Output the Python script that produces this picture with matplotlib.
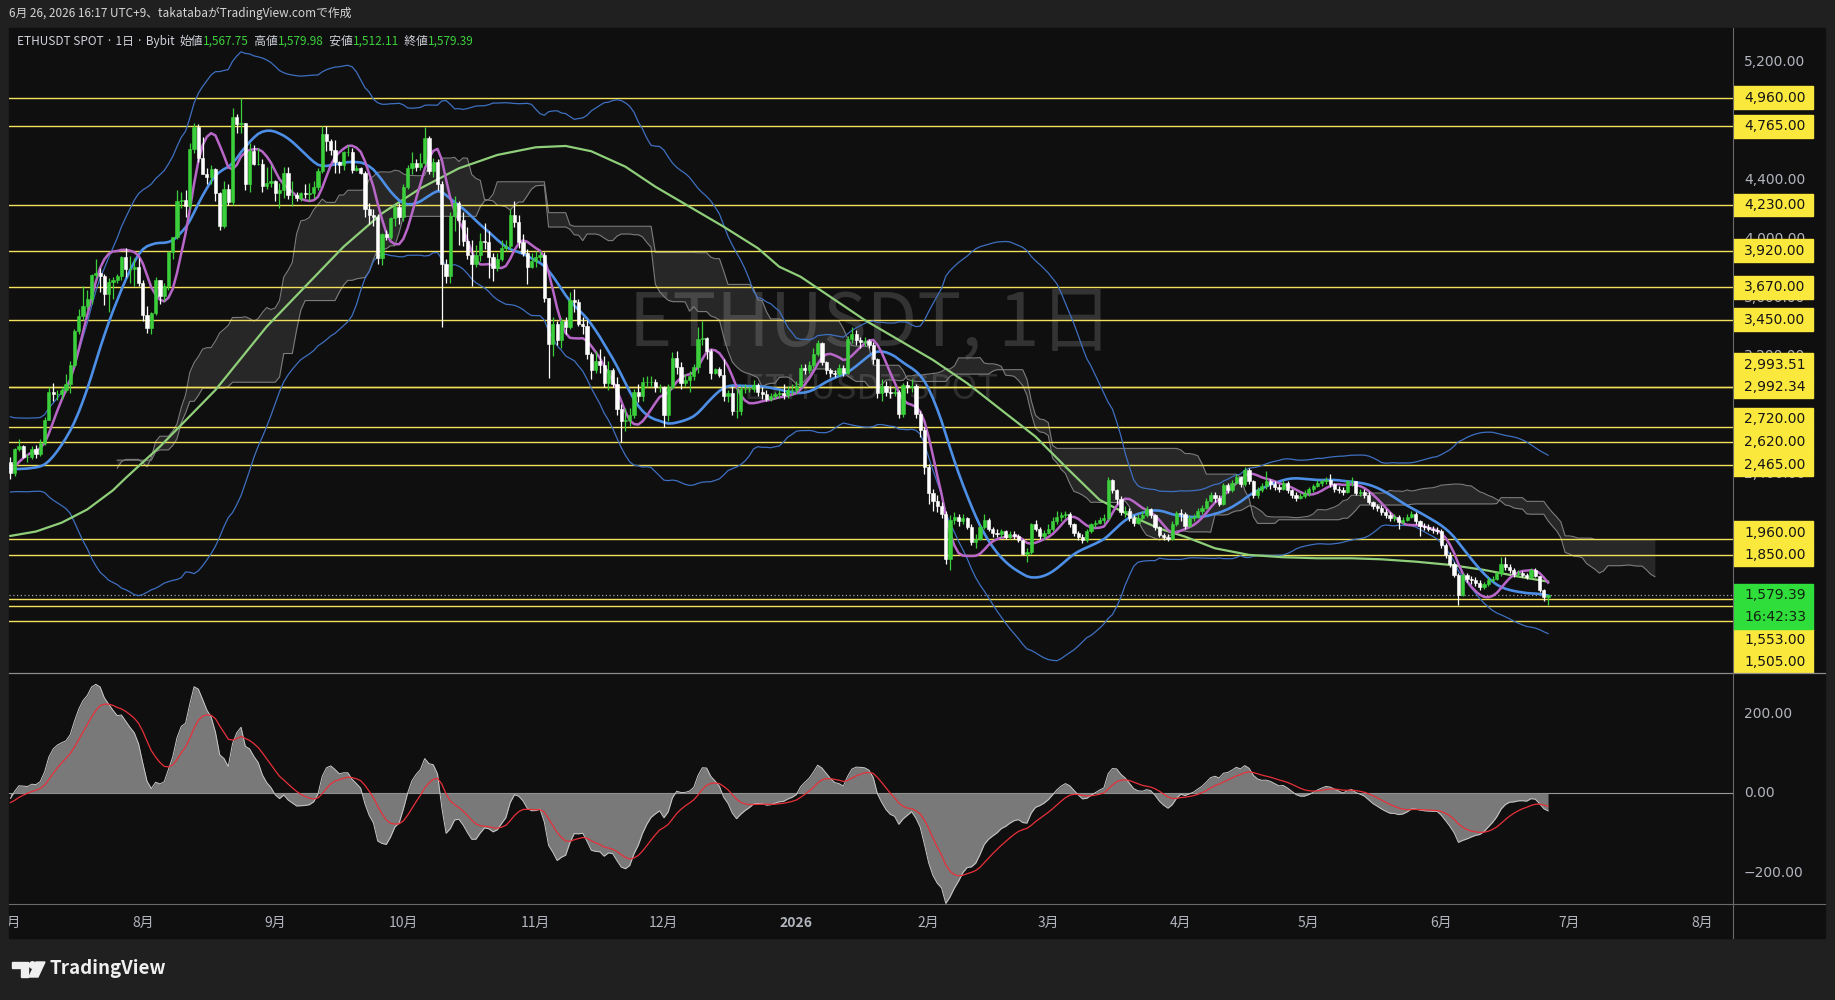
import numpy as np
import pandas as pd
import matplotlib
matplotlib.use('Agg')
import matplotlib.pyplot as plt
from matplotlib.patches import Rectangle, Polygon, Circle

plt.rcParams['font.family'] = ['Noto Sans CJK JP', 'DejaVu Sans']

# ---------------- data ----------------
chart_start = '2025-07-01'

# history before the visible range (2025-04-10 .. 2025-06-30), needed for indicator warm-up
pre_close = [1520, 1565, 1645, 1595, 1625, 1590, 1575, 1585, 1590, 1610, 1585, 1580, 1755, 1795, 1770, 1785, 1820, 1795, 1800, 1800, 1795,
             1840, 1845, 1830, 1810, 1815, 1815, 1810, 2205, 2345, 2585, 2515, 2490, 2680, 2610, 2545, 2550, 2475, 2495, 2525, 2525,
             2550, 2665, 2530, 2530, 2550, 2565, 2660, 2680, 2630, 2530, 2530,
             2510, 2610, 2595, 2610, 2415, 2480, 2525, 2510, 2680, 2815, 2770, 2640, 2575, 2525, 2545, 2545, 2510, 2525, 2520, 2410,
             2400, 2225, 2405, 2445, 2420, 2415, 2425, 2435, 2500, 2485]
pre_high = [1690, 1580, 1660, 1690, 1690, 1660, 1600, 1600, 1610, 1620, 1640, 1600, 1790, 1830, 1800, 1800, 1830, 1830, 1845, 1840, 1840,
            1870, 1870, 1850, 1840, 1830, 1830, 1830, 2210, 2390, 2600, 2600, 2560, 2740, 2720, 2610, 2620, 2560, 2540, 2550, 2570,
            2640, 2740, 2740, 2560, 2570, 2590, 2720, 2700, 2790, 2670, 2560,
            2540, 2640, 2640, 2680, 2630, 2510, 2550, 2540, 2690, 2820, 2880, 2780, 2640, 2590, 2610, 2680, 2540, 2550, 2550, 2540,
            2440, 2420, 2430, 2490, 2460, 2530, 2470, 2450, 2520, 2520]
pre_low = [1500, 1505, 1550, 1560, 1590, 1575, 1540, 1565, 1575, 1580, 1580, 1540, 1580, 1740, 1740, 1740, 1780, 1770, 1780, 1780, 1750,
           1780, 1830, 1800, 1800, 1780, 1780, 1780, 1800, 2150, 2320, 2460, 2420, 2460, 2580, 2500, 2510, 2440, 2440, 2400, 2500,
           2470, 2550, 2510, 2500, 2460, 2520, 2550, 2640, 2580, 2520, 2500,
           2470, 2500, 2570, 2580, 2380, 2400, 2470, 2490, 2500, 2650, 2750, 2630, 2450, 2500, 2500, 2530, 2480, 2490, 2500, 2390,
           2350, 2110, 2240, 2380, 2380, 2390, 2410, 2410, 2420, 2480]

# daily candles 2025-07-01 .. 2026-06-26 (open = previous close)
close = [
    # 2025-07
    2405, 2570, 2590, 2515, 2515, 2570, 2540, 2610, 2770, 2955, 2945, 2945, 2970, 3010, 3140, 3370, 3475, 3545, 3590, 3755,
    3765, 3745, 3625, 3705, 3720, 3745, 3875, 3795, 3795, 3810, 3700,
    # 2025-08
    3480, 3395, 3495, 3720, 3610, 3680, 3910, 4010, 4255, 4265, 4220, 4610, 4760, 4550, 4440, 4420, 4475, 4310, 4090, 4340,
    4250, 4830, 4780, 4785, 4370, 4600, 4510, 4510, 4360, 4380, 4390,
    # 2025-09
    4310, 4330, 4450, 4300, 4300, 4275, 4310, 4305, 4310, 4350, 4460, 4715, 4665, 4605, 4525, 4500, 4590, 4590, 4470, 4480,
    4450, 4200, 4165, 4150, 3870, 4030, 4010, 4140, 4215, 4145,
    # 2025-10
    4350, 4480, 4515, 4490, 4515, 4685, 4460, 4525, 4370, 3830, 3745, 4155, 4245, 4125, 3985, 3890, 3830, 3890, 3985, 3980,
    3875, 3800, 3860, 3935, 3950, 4160, 4115, 3980, 3905, 3810, 3850,
    # 2025-11
    3875, 3890, 3600, 3285, 3420, 3310, 3440, 3400, 3585, 3570, 3420, 3410, 3215, 3110, 3170, 3140, 3020, 3105, 3010, 2840,
    2760, 2765, 2805, 2955, 2930, 3025, 3025, 3025, 2990, 2990,
    # 2025-12
    2800, 2995, 3190, 3130, 3020, 3040, 3065, 3125, 3320, 3325, 3235, 3085, 3115, 3075, 2930, 2950, 2830, 2830, 2980, 2980,
    2980, 3005, 2960, 2945, 2910, 2930, 2945, 2950, 2935, 2970, 2970,
    # 2026-01
    3000, 3120, 3110, 3140, 3220, 3290, 3160, 3105, 3085, 3080, 3120, 3090, 3320, 3350, 3310, 3295, 3305, 3280, 3180, 2950,
    3000, 2960, 2950, 2960, 2810, 3005, 2990, 3000, 2810, 2700, 2450,
    # 2026-02
    2270, 2220, 2180, 2130, 1820, 2090, 2110, 2080, 2100, 2040, 1940, 1960, 2040, 2090, 2030, 2000, 1990, 2010, 1975, 1990,
    1980, 1950, 1860, 1870, 2060, 2030, 1980, 2000,
    # 2026-03
    2030, 2080, 2110, 2125, 2130, 2060, 2000, 1970, 1950, 2010, 2060, 2070, 2090, 2100, 2360, 2290, 2230, 2140, 2150, 2100,
    2070, 2100, 2120, 2160, 2120, 2040, 1985, 1975, 1960, 2060, 2135,
    # 2026-04
    2130, 2050, 2100, 2110, 2150, 2170, 2220, 2260, 2240, 2200, 2325, 2290, 2340, 2380, 2330, 2430, 2350, 2260, 2290, 2320,
    2350, 2330, 2310, 2300, 2340, 2290, 2260, 2240, 2250, 2270,
    # 2026-05
    2300, 2320, 2340, 2350, 2360, 2330, 2300, 2290, 2280, 2350, 2350, 2270, 2280, 2260, 2210, 2180, 2170, 2140, 2120, 2100,
    2110, 2075, 2090, 2110, 2130, 2080, 2050, 2040, 2030, 2020, 2010,
    # 2026-06
    1920, 1850, 1790, 1715, 1580, 1715, 1690, 1680, 1660, 1630, 1650, 1680, 1690, 1725, 1790, 1770, 1750, 1720, 1730, 1715,
    1700, 1750, 1705, 1615, 1567.75, 1579.39]
high = [
    2515, 2580, 2640, 2600, 2540, 2590, 2600, 2640, 2790, 2995, 3020, 2970, 2990, 3080, 3170, 3390, 3520, 3680, 3650, 3760,
    3860, 3800, 3760, 3730, 3740, 3760, 3880, 3940, 3880, 3870, 3870,
    3720, 3540, 3500, 3740, 3720, 3700, 3920, 4010, 4330, 4320, 4330, 4650, 4790, 4780, 4690, 4480, 4500, 4480, 4320, 4390,
    4370, 4890, 4850, 4955, 4790, 4650, 4640, 4620, 4540, 4490, 4500,
    4400, 4380, 4490, 4490, 4390, 4320, 4320, 4370, 4380, 4390, 4480, 4770, 4770, 4680, 4670, 4530, 4600, 4640, 4620, 4500,
    4490, 4460, 4240, 4200, 4170, 4040, 4060, 4150, 4230, 4240,
    4370, 4500, 4590, 4540, 4580, 4760, 4700, 4550, 4540, 4390, 3860, 4180, 4290, 4260, 4180, 4080, 3990, 3960, 4040, 4110,
    4050, 3900, 3900, 3990, 3990, 4200, 4260, 4160, 4030, 3930, 3900,
    3920, 3920, 3910, 3600, 3470, 3440, 3460, 3470, 3640, 3660, 3590, 3470, 3450, 3230, 3240, 3250, 3200, 3170, 3120, 3060,
    2880, 2850, 2850, 2980, 3010, 3060, 3070, 3070, 3050, 3010,
    3000, 3010, 3230, 3240, 3160, 3080, 3100, 3150, 3400, 3440, 3330, 3250, 3120, 3130, 3180, 2970, 3000, 2990, 3000, 3010,
    3000, 3040, 3020, 2990, 2970, 2950, 2960, 2970, 3010, 3000, 3010,
    3030, 3150, 3150, 3170, 3260, 3310, 3300, 3170, 3120, 3110, 3150, 3140, 3340, 3400, 3380, 3330, 3330, 3320, 3300, 3190,
    3050, 3030, 3000, 2990, 2970, 3020, 3030, 3050, 3010, 2830, 2720,
    2470, 2300, 2260, 2210, 2150, 2120, 2140, 2130, 2130, 2110, 2060, 1990, 2060, 2130, 2100, 2040, 2030, 2030, 2020, 2010,
    2010, 1990, 1960, 1900, 2070, 2090, 2040, 2020,
    2060, 2110, 2150, 2140, 2150, 2140, 2070, 2010, 1990, 2030, 2070, 2090, 2110, 2130, 2380, 2370, 2300, 2250, 2180, 2170,
    2120, 2130, 2150, 2180, 2170, 2130, 2050, 2000, 1990, 2080, 2150,
    2160, 2140, 2120, 2130, 2170, 2190, 2240, 2280, 2280, 2260, 2340, 2340, 2360, 2400, 2390, 2450, 2440, 2360, 2310, 2340,
    2420, 2370, 2350, 2330, 2360, 2350, 2300, 2280, 2270, 2290,
    2310, 2330, 2360, 2370, 2380, 2400, 2340, 2320, 2310, 2360, 2380, 2350, 2300, 2300, 2280, 2220, 2200, 2190, 2160, 2140,
    2130, 2120, 2110, 2130, 2150, 2140, 2090, 2070, 2060, 2050, 2040,
    2030, 1930, 1870, 1800, 1730, 1730, 1730, 1710, 1700, 1680, 1670, 1700, 1710, 1740, 1840, 1840, 1790, 1760, 1750, 1740,
    1730, 1760, 1760, 1710, 1620, 1579.98]
low = [
    2370, 2385, 2560, 2510, 2480, 2500, 2510, 2520, 2600, 2765, 2900, 2905, 2910, 2960, 2950, 3130, 3350, 3450, 3520, 3560,
    3730, 3640, 3550, 3500, 3590, 3700, 3720, 3740, 3700, 3680, 3680,
    3440, 3360, 3350, 3480, 3560, 3580, 3650, 3860, 4000, 4210, 4150, 4200, 4580, 4520, 4440, 4370, 4370, 4260, 4060, 4070,
    4230, 4230, 4720, 4720, 4330, 4320, 4500, 4500, 4320, 4340, 4350,
    4260, 4210, 4280, 4270, 4220, 4260, 4260, 4280, 4260, 4280, 4330, 4450, 4600, 4570, 4450, 4450, 4470, 4560, 4450, 4460,
    4440, 4150, 4100, 4090, 3830, 3820, 3990, 4000, 4090, 4100,
    4120, 4340, 4440, 4460, 4470, 4500, 4440, 4420, 4330, 3400, 3700, 3700, 4050, 3960, 3950, 3860, 3680, 3810, 3850, 3930,
    3730, 3710, 3780, 3850, 3920, 3930, 4080, 3940, 3880, 3690, 3800,
    3810, 3850, 3570, 3055, 3200, 3280, 3260, 3350, 3390, 3500, 3410, 3350, 3180, 3050, 3090, 3090, 2990, 2970, 2990, 2800,
    2620, 2690, 2730, 2780, 2890, 2900, 2990, 2990, 2960, 2960,
    2720, 2760, 2980, 3080, 2980, 3000, 2960, 3040, 3090, 3280, 3180, 3050, 3080, 3060, 2900, 2890, 2800, 2780, 2800, 2950,
    2960, 2960, 2930, 2910, 2900, 2900, 2910, 2920, 2910, 2920, 2940,
    2950, 2990, 3080, 3090, 3120, 3200, 3140, 3080, 3060, 3060, 3070, 3070, 3080, 3290, 3280, 3260, 3270, 3260, 3150, 2920,
    2900, 2930, 2920, 2930, 2780, 2790, 2950, 2960, 2780, 2650, 2400,
    2200, 2150, 2140, 2100, 1790, 1750, 2060, 2050, 2060, 2030, 1920, 1900, 1950, 2030, 2010, 1970, 1970, 1970, 1960, 1960,
    1960, 1940, 1850, 1800, 1860, 2010, 1960, 1960,
    1990, 2010, 2060, 2080, 2100, 2040, 1980, 1950, 1930, 1940, 2000, 2040, 2060, 2070, 2090, 2270, 2200, 2120, 2110, 2080,
    2050, 2060, 2090, 2110, 2100, 2020, 1970, 1950, 1945, 1950, 2050,
    2080, 2030, 2040, 2080, 2100, 2130, 2160, 2210, 2210, 2180, 2190, 2270, 2280, 2330, 2310, 2320, 2330, 2240, 2240, 2280,
    2300, 2300, 2290, 2280, 2290, 2270, 2240, 2220, 2230, 2240,
    2250, 2280, 2310, 2320, 2330, 2310, 2280, 2270, 2260, 2270, 2320, 2260, 2250, 2240, 2200, 2160, 2150, 2120, 2100, 2080,
    2080, 2030, 2060, 2080, 2100, 2060, 1980, 2020, 2010, 2000, 1990,
    1900, 1830, 1770, 1700, 1510, 1570, 1670, 1650, 1640, 1610, 1620, 1640, 1670, 1680, 1710, 1750, 1730, 1700, 1700, 1700,
    1690, 1690, 1700, 1600, 1540, 1512.11]

# long moving average (green): day index -> value
green_day = [0, 6, 12, 18, 24, 27, 35, 48, 60, 69, 78, 87, 96, 105, 114, 123, 130, 136, 144, 151, 159, 167, 175,
             180, 185, 200, 216, 224, 232, 240, 247, 255, 262, 269, 275, 282, 290, 298, 306, 314, 321, 329, 337,
             345, 353, 360]
green_val = [1980, 2010, 2070, 2160, 2290, 2374, 2587, 2972, 3403, 3675, 3946, 4173, 4343, 4479, 4570, 4622, 4631,
             4595, 4490, 4354, 4218, 4082, 3936, 3810, 3742, 3448, 3176, 3018, 2836, 2655, 2451, 2225, 2120, 2030,
             1975, 1896, 1851, 1835, 1828, 1828, 1821, 1805, 1783, 1749, 1704, 1669]

levels = [4960, 4765, 4230, 3920, 3670, 3450, 2993.51, 2992.34, 2720, 2620, 2465, 1960, 1850, 1553, 1505]
extra_levels = [1400]
price_ticks = [5200, 4800, 4400, 4000, 3600, 3200, 2800, 2400]
macd_ticks = [200, 0, -200]
month_labels = ['7月', '8月', '9月', '10月', '11月', '12月', '2026', '2月', '3月', '4月', '5月', '6月', '7月', '8月']
month_dates = ['2025-07-01', '2025-08-01', '2025-09-01', '2025-10-01', '2025-11-01', '2025-12-01', '2026-01-01',
               '2026-02-01', '2026-03-01', '2026-04-01', '2026-05-01', '2026-06-01', '2026-07-01', '2026-08-01']
countdown = '16:42:33'

assert len(close) == len(high) == len(low), (len(close), len(high), len(low))
assert len(pre_close) == len(pre_high) == len(pre_low), (len(pre_close), len(pre_high), len(pre_low))

# ---------------- indicators ----------------
n_pre = len(pre_close)
c_all = pd.Series(pre_close + close, dtype=float)
h_all = pd.Series(pre_high + high, dtype=float)
l_all = pd.Series(pre_low + low, dtype=float)
d_all = np.arange(len(c_all)) - n_pre
vis = d_all >= 0
days = d_all[vis]
o_all = c_all.shift(1)


def wma(s, n):
    w = np.arange(1, n + 1)
    return s.rolling(n).apply(lambda v: np.dot(v, w) / w.sum(), raw=True)


def hma(s, n):
    return wma(2 * wma(s, n // 2) - wma(s, n), int(np.sqrt(n)))


purple = hma(c_all, 21)
blue = hma(c_all, 55)
bb_mid = c_all.rolling(50).mean()
bb_sd = c_all.rolling(50).std(ddof=0)
bb_up = bb_mid + 2.5 * bb_sd
bb_lo = bb_mid - 2.5 * bb_sd

conv = (h_all.rolling(9).max() + l_all.rolling(9).min()) / 2
base = (h_all.rolling(26).max() + l_all.rolling(26).min()) / 2
span_a = (conv + base) / 2
span_b = (h_all.rolling(52).max() + l_all.rolling(52).min()) / 2

macd = c_all.ewm(span=7, adjust=False).mean() - c_all.ewm(span=15, adjust=False).mean()
signal = macd.ewm(span=9, adjust=False).mean()

# ---------------- layout ----------------
W, H = 1835, 1000
BG_OUT = '#202020'
BG = '#0f0f0f'
TXT = '#b2b5be'
UP = '#3ccf3c'
DOWN = '#ffffff'
YEL_LINE = '#f3e15c'
YEL_BOX = '#fbe83c'

L, R, RX = 9, 1733, 1825          # pane left, pane right, scale right
T, MB, SB, TB = 28, 673, 904, 938  # top, main bottom, macd bottom, time-axis bottom
PRICE_TOP, PRICE_BOT = 5433, 1048
MACD_TOP, MACD_BOT = 302, -279
X0, X1 = -0.33, 403.3


def rect(x0, y0, x1, y1):
    return [x0 / W, 1 - y1 / H, (x1 - x0) / W, (y1 - y0) / H]


fig = plt.figure(figsize=(W / 100, H / 100), dpi=100, facecolor=BG_OUT)
fig.add_artist(Rectangle((L / W, 1 - TB / H), (RX - L) / W, (TB - T) / H,
                         transform=fig.transFigure, color=BG, zorder=0))

ax = fig.add_axes(rect(L, T, R, MB))
ax2 = fig.add_axes(rect(L, MB, R, SB))
axt = fig.add_axes(rect(L, SB, R, TB))
axr = fig.add_axes(rect(R, T, RX, MB))
axr2 = fig.add_axes(rect(R, MB, RX, SB))
for a in (ax, ax2, axt, axr, axr2):
    a.set_facecolor(BG)
    a.patch.set_alpha(0)
    for s in a.spines.values():
        s.set_visible(False)
    a.set_xticks([])
    a.set_yticks([])

ax.set_xlim(X0, X1)
ax.set_ylim(PRICE_BOT, PRICE_TOP)
ax2.set_xlim(X0, X1)
ax2.set_ylim(MACD_BOT, MACD_TOP)
axt.set_xlim(X0, X1)
axt.set_ylim(0, 1)
axr.set_xlim(0, RX - R)
axr.set_ylim(PRICE_BOT, PRICE_TOP)
axr2.set_xlim(0, RX - R)
axr2.set_ylim(MACD_BOT, MACD_TOP)

# watermark
ax.text(0.5, 0.54, 'ETHUSDT, 1日', transform=ax.transAxes, ha='center', va='center',
        fontsize=53, color='#333333', zorder=0.5)
ax.text(0.5, 0.439, 'ETHUSDT SPOT', transform=ax.transAxes, ha='center', va='center',
        fontsize=25, color='#2e2e2e', zorder=0.5)

# ichimoku cloud (shifted 25 bars forward)
cloud_x = days + 25
sa = span_a[vis].values
sb = span_b[vis].values
ax.fill_between(cloud_x, sa, sb, color='white', alpha=0.1, lw=0, zorder=1)
ax.plot(cloud_x, sa, color='#7c7c7c', lw=0.8, zorder=1.2)
ax.plot(cloud_x, sb, color='#7c7c7c', lw=0.8, zorder=1.2)

# horizontal levels
for lv in levels + extra_levels:
    ax.axhline(lv, color=YEL_LINE, lw=1.0, zorder=1.5)
last_close = close[-1]
ax.axhline(last_close, color='#a0a0a0', lw=0.9, ls=(0, (1, 2)), zorder=1.5)

# bands and averages
ax.plot(days, bb_up[vis], color='#3e6fc0', lw=0.9, zorder=2)
ax.plot(days, bb_lo[vis], color='#3e6fc0', lw=0.9, zorder=2)
ax.plot(green_day, green_val, color='#8fcf7a', lw=1.6, zorder=2)
ax.plot(days, blue[vis], color='#4d8fe6', lw=1.9, zorder=2.1)
ax.plot(days, purple[vis], color='#b867c8', lw=1.8, zorder=2.2)

# candles
o = o_all[vis].values
c = c_all[vis].values
hi = np.maximum(h_all[vis].values, np.maximum(o, c))
lo = np.minimum(l_all[vis].values, np.minimum(o, c))
up = c >= o
for mask, col in ((up, UP), (~up, DOWN)):
    ax.vlines(days[mask], lo[mask], hi[mask], color=col, lw=0.9, zorder=3)
    ax.bar(days[mask], c[mask] - o[mask], bottom=o[mask], width=0.75, color=col,
           edgecolor=col, lw=0.4, zorder=3.1)

# macd pane
md = macd[vis].values
ax2.axhline(0, color='#9a9a9a', lw=0.8, zorder=1)
ax2.fill_between(days, 0, md, color='#858585', alpha=0.9, lw=0, zorder=2)
ax2.plot(days, md, color='#c8c8c8', lw=0.7, zorder=2.1)
ax2.plot(days, signal[vis].values, color='#e8303a', lw=0.9, zorder=2.2)

# ---------------- price scale ----------------
px_per_price = (MB - T) / (PRICE_TOP - PRICE_BOT)
lab_h = 22.5 / px_per_price
tx = 11
for v in price_ticks:
    axr.text(tx, v, f'{v:,.2f}', color=TXT, fontsize=10, va='center', ha='left',
             family='DejaVu Sans', zorder=1)

# stack level labels away from the live price label
cur_top = last_close + lab_h / 2
cur_bot = last_close - 1.5 * lab_h
pos = {}
prev = cur_top - lab_h / 2
for lv in sorted([v for v in levels if v > last_close]):
    y = max(lv, prev + lab_h)
    pos[lv] = y
    prev = y
prev = cur_bot + lab_h / 2
for lv in sorted([v for v in levels if v < last_close], reverse=True):
    y = min(lv, prev - lab_h)
    pos[lv] = y
    prev = y

box_w = 80
for lv, y in pos.items():
    axr.add_patch(Rectangle((0, y - lab_h / 2), box_w, lab_h, color=YEL_BOX, zorder=3))
    axr.text(tx, y, f'{lv:,.2f}', color='#151515', fontsize=10, va='center', ha='left',
             family='DejaVu Sans', zorder=4)
axr.add_patch(Rectangle((0, cur_bot), box_w, cur_top - cur_bot, color='#2fde3a', zorder=3))
axr.text(tx, last_close, f'{last_close:,.2f}', color='#10240f', fontsize=10, va='center',
         ha='left', family='DejaVu Sans', zorder=4)
axr.text(tx, last_close - lab_h, countdown, color='#10240f', fontsize=10, va='center',
         ha='left', family='DejaVu Sans', zorder=4)

for v in macd_ticks:
    lbl = f'{v:.2f}'.replace('-', '\u2212')
    axr2.text(tx, v, lbl, color=TXT, fontsize=10, va='center', ha='left', family='DejaVu Sans')

# ---------------- time axis ----------------
t0 = pd.Timestamp(chart_start)
for lab, dt in zip(month_labels, month_dates):
    d = (pd.Timestamp(dt) - t0).days
    axt.text(d, 0.45, lab, color=TXT, fontsize=10, ha='center', va='center',
             fontweight='bold' if lab == '2026' else 'normal', clip_on=True)

# ---------------- chrome ----------------
ov = fig.add_axes([0, 0, 1, 1], zorder=10)
ov.set_xlim(0, W)
ov.set_ylim(H, 0)
ov.axis('off')
ov.patch.set_alpha(0)
ov.plot([L, RX], [MB, MB], color='#8c8c8c', lw=0.9)
ov.plot([L, RX], [SB, SB], color='#6a6a6a', lw=0.8)
ov.plot([R, R], [T, TB], color='#6a6a6a', lw=0.8)

ov.text(9, 14, '6月 26, 2026 16:17 UTC+9、takatabaがTradingView.comで作成', color='#d6d6d6',
        fontsize=8.5, va='center', ha='left')

renderer = fig.canvas.get_renderer()
x = 17
opens = o_all.values
segs = [('ETHUSDT SPOT · 1日 · Bybit  ', '#d1d4dc'),
        ('始値', '#d1d4dc'), (f'{opens[-1]:,.2f}', UP),
        ('  高値', '#d1d4dc'), (f'{high[-1]:,.2f}', UP),
        ('  安値', '#d1d4dc'), (f'{low[-1]:,.2f}', UP),
        ('  終値', '#d1d4dc'), (f'{close[-1]:,.2f}', UP)]
for s, col in segs:
    t = ov.text(x, 41, s, color=col, fontsize=8.5, va='center', ha='left')
    x += t.get_window_extent(renderer).width

# TradingView logo
ov.add_patch(Polygon([(12, 962), (28, 962), (28, 977), (21, 977), (21, 968), (12, 968)],
                     closed=True, color='#f0f0f0'))
ov.add_patch(Circle((32.5, 965), 3.2, color='#f0f0f0'))
ov.add_patch(Polygon([(36, 962), (45, 962), (38, 977), (29, 977)], closed=True, color='#f0f0f0'))
ov.text(49, 969, 'TradingView', color='#f0f0f0', fontsize=13.5, fontweight='bold',
        va='center', ha='left')

fig.savefig('out.png', dpi=100, facecolor=fig.get_facecolor())
